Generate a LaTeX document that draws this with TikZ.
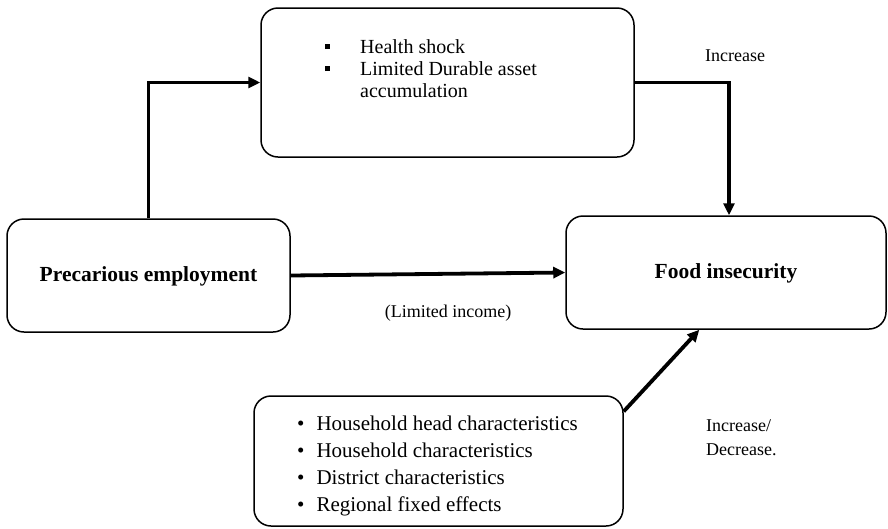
\documentclass[tikz,border=0pt]{standalone}
\usepackage{fontspec}
\setmainfont{Liberation Serif}
\usetikzlibrary{calc}
\usetikzlibrary{arrows.meta}

\begin{document}
\begin{tikzpicture}[x=1pt,y=-1pt,
  box/.style={draw,line width=1.5pt,rounded corners=17pt,inner sep=0pt},
  link/.style={line width=3.8pt,-{Triangle[length=12pt,width=11pt]}},
  lbl/.style={font=\fontsize{18}{24}\selectfont,inner sep=0pt}]
\useasboundingbox (0,0) rectangle (888,528);

% ---------- boxes ----------
\node[box,minimum width=373pt,minimum height=149pt] (shocks) at (447.5,82.5) {};
\node[anchor=north west,inner sep=0pt,align=left,font=\fontsize{20}{22}\selectfont]
  (shocklist) at (325,39) {%
  \rule[4pt]{5pt}{5pt}\hspace{30pt}Health shock\\
  \rule[4pt]{5pt}{5pt}\hspace{30pt}Limited Durable asset\\
  \hspace{35pt}accumulation};

\node[box,minimum width=283pt,minimum height=113pt,text depth=2pt,
  font=\fontsize{21.5}{26}\selectfont\bfseries] (precar) at (148.5,275.5) {Precarious employment};
\node[box,minimum width=320pt,minimum height=113pt,text depth=2pt,
  font=\fontsize{21.5}{26}\selectfont\bfseries] (food) at (726,272.5) {Food insecurity};

\node[box,minimum width=369pt,minimum height=130pt] (controls) at (438.5,461) {};
\node[anchor=west,inner sep=0pt,align=left,font=\fontsize{21}{26.7}\selectfont]
  (controllist) at (297,466) {%
  \textbullet\hspace{12pt}Household head characteristics\\
  \textbullet\hspace{12pt}Household characteristics\\
  \textbullet\hspace{12pt}District characteristics\\
  \textbullet\hspace{12pt}Regional fixed effects};

% ---------- links ----------
\draw[link] (precar.north) |- (shocks.west);
\draw[link] (shocks.east) -| ($(food.north)+(3,0)$);
\draw[link] (precar.east) -- (food.west);
\draw[link] (controls.15) -- (food.245);

% ---------- labels ----------
\node[lbl] (up) at (735,56) {Increase};
\node[lbl] (income) at (448,313) {(Limited income)};
\node[lbl,anchor=west,align=left] (updown) at (706,438) {Increase/\\Decrease.};
\end{tikzpicture}
\end{document}
